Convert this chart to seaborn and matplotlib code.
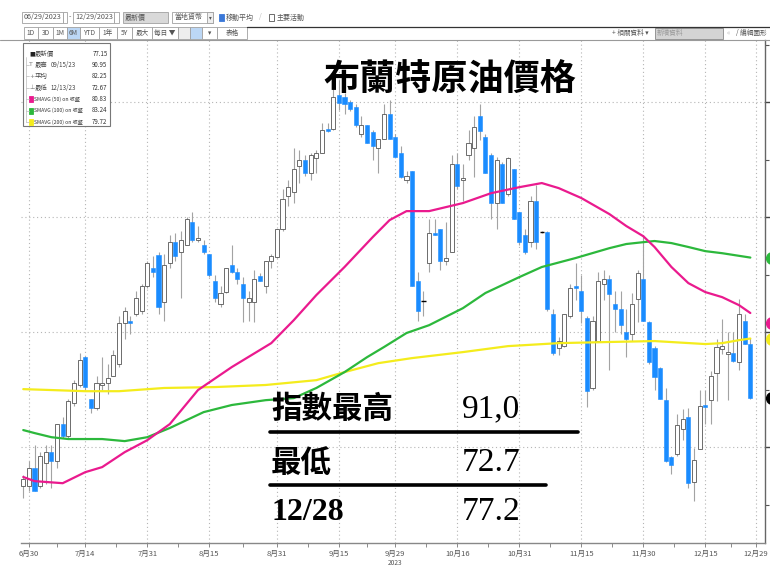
import matplotlib
matplotlib.use('Agg')
import matplotlib.pyplot as plt
import matplotlib.patches as mpatches
from matplotlib.lines import Line2D
import numpy as np
import pandas as pd
import seaborn as sns

# Brent daily candles 6/29/2023 - 12/28/2023
opens = [
    73.3, 73.3, 74.1, 73.3, 74.3, 74.8, 74.4, 76.0, 75.5, 76.9,
    77.7, 78.9, 77.1, 76.7, 77.7, 77.8, 78.1, 78.6, 80.4, 80.5,
    80.8, 80.9, 82.0, 82.8, 83.35, 81.3, 83.0, 83.9, 83.5, 83.8,
    84.8, 84.0, 83.8, 83.4, 82.2, 81.2, 81.75, 82.9, 82.6, 82.1,
    81.3, 81.3, 82.45, 82.0, 83.1, 83.25, 84.5, 85.9, 86.1, 87.2,
    87.5, 86.9, 87.55, 87.8, 88.85, 88.85, 90.3, 90.2, 90.0, 89.8,
    88.6, 89.0, 88.7, 88.0, 88.4, 89.5, 88.5, 87.8, 86.6, 87.0,
    82.2, 81.35, 83.0, 84.3, 84.5, 83.1, 83.5, 87.3, 86.6, 87.7,
    88.0, 89.4, 88.5, 87.7, 85.6, 87.3, 86.0, 87.1, 85.2, 84.2,
    83.9, 85.7, 84.35, 84.35, 80.8, 79.3, 79.4, 80.7, 82.0, 81.8,
    80.6, 77.55, 79.6, 82.1, 82.3, 81.2, 81.0, 80.0, 79.9, 81.45,
    82.3, 80.45, 79.3, 78.45, 77.05, 74.55, 74.7, 75.8, 76.3, 73.5,
    74.9, 76.85, 77.05, 78.2, 79.25, 79.05, 79.1, 78.7, 80.5, 79.5,
]
highs = [
    73.8, 74.4, 75.1, 74.8, 75.1, 75.1, 76.0, 76.3, 77.1, 77.9,
    79.1, 78.95, 77.1, 78.1, 78.9, 78.6, 79.2, 80.7, 81.1, 80.7,
    81.8, 82.1, 83.1, 83.3, 83.5, 83.4, 84.2, 84.3, 84.4, 85.0,
    85.2, 84.6, 84.0, 83.4, 82.5, 82.0, 82.8, 83.8, 82.8, 82.4,
    81.8, 82.7, 82.55, 83.1, 83.4, 84.5, 86.2, 86.6, 88.0, 87.9,
    87.7, 87.8, 87.9, 89.1, 89.1, 90.7, 90.95, 90.4, 90.1, 89.9,
    89.4, 89.0, 88.8, 88.4, 89.9, 90.1, 88.6, 88.1, 87.0, 87.0,
    82.6, 81.8, 84.9, 84.9, 84.5, 84.8, 87.7, 87.8, 87.3, 88.8,
    89.4, 89.9, 88.6, 87.8, 87.6, 87.4, 87.6, 87.1, 85.2, 84.5,
    85.9, 86.4, 84.4, 84.4, 81.0, 79.8, 80.8, 82.1, 83.0, 82.5,
    80.7, 80.7, 82.6, 82.7, 82.5, 81.8, 81.8, 81.0, 81.7, 82.7,
    84.2, 80.5, 79.4, 78.5, 77.55, 74.6, 76.45, 76.65, 76.7, 74.95,
    77.5, 77.5, 78.3, 79.7, 80.55, 80.0, 80.0, 81.45, 80.8, 79.75,
]
lows = [
    72.8, 73.1, 73.1, 73.2, 73.4, 73.2, 74.1, 75.4, 75.4, 76.8,
    77.6, 77.5, 76.5, 76.6, 77.5, 77.3, 78.1, 78.5, 79.7, 79.9,
    80.7, 80.8, 81.9, 82.4, 80.8, 80.5, 82.8, 83.1, 81.5, 83.8,
    83.9, 83.9, 83.4, 82.4, 81.3, 81.1, 81.7, 82.55, 82.1, 80.45,
    80.5, 80.45, 82.2, 81.7, 82.8, 83.2, 84.4, 85.5, 85.6, 86.5,
    86.8, 86.6, 86.9, 87.8, 88.7, 88.8, 89.65, 89.5, 89.6, 88.9,
    88.5, 88.2, 87.5, 86.9, 88.4, 88.4, 87.6, 86.7, 86.5, 82.0,
    80.5, 80.7, 82.6, 84.2, 82.7, 82.9, 83.5, 86.2, 85.7, 87.5,
    86.75, 88.35, 86.9, 84.9, 84.5, 85.6, 85.9, 84.9, 83.8, 83.4,
    83.7, 83.6, 84.3, 80.9, 79.0, 79.0, 79.35, 80.6, 81.4, 80.4,
    76.75, 77.5, 79.6, 81.4, 78.35, 80.0, 79.9, 78.9, 79.6, 80.45,
    80.5, 78.6, 77.5, 77.1, 74.35, 73.85, 74.6, 75.3, 73.2, 72.67,
    74.9, 76.0, 76.0, 77.0, 79.05, 77.05, 78.7, 78.35, 79.5, 77.1,
]
closes = [
    73.6, 74.1, 73.1, 74.6, 74.8, 74.4, 76.0, 75.5, 77.0, 77.8,
    78.8, 77.6, 76.7, 77.8, 77.8, 78.0, 79.0, 80.4, 80.9, 80.4,
    81.5, 82.0, 83.0, 82.6, 81.1, 82.9, 83.9, 83.3, 84.0, 84.9,
    84.0, 84.1, 83.5, 82.5, 81.5, 81.7, 82.8, 82.6, 82.3, 81.5,
    81.5, 82.3, 82.2, 83.1, 83.3, 84.5, 85.8, 86.3, 87.1, 87.5,
    86.9, 87.7, 87.8, 88.8, 88.75, 90.2, 89.95, 89.9, 89.7, 89.0,
    89.0, 88.2, 88.1, 88.4, 89.5, 88.4, 87.6, 86.75, 86.8, 82.0,
    80.9, 81.35, 84.3, 84.2, 83.1, 83.2, 87.3, 86.35, 86.7, 88.2,
    88.9, 88.75, 86.9, 85.6, 87.5, 85.6, 87.55, 84.9, 83.9, 83.5,
    85.7, 83.9, 84.35, 81.0, 79.1, 79.6, 80.8, 81.9, 81.9, 80.9,
    77.45, 80.5, 82.2, 82.3, 81.65, 81.0, 80.3, 79.7, 81.2, 82.55,
    80.5, 78.7, 78.05, 77.1, 74.4, 74.2, 75.95, 76.2, 73.45, 74.45,
    76.8, 76.75, 78.1, 79.35, 79.4, 79.15, 78.75, 80.8, 79.5, 77.15,
]

# moving averages, sampled along the line (trading-day number, value)
sma50_day = [0, 2, 7, 11, 14, 18, 22, 26, 31, 37, 44, 48, 52, 57, 62, 65, 68, 72,
             78, 83, 88, 92, 95, 99, 104, 107, 110, 112, 115, 118, 121, 124, 127, 129]
sma50 = [73.70, 73.52, 73.43, 73.91, 74.13, 74.78, 75.30, 76.00, 77.48, 78.48, 79.52,
         80.52, 81.61, 82.83, 84.13, 84.87, 85.26, 85.26, 85.61, 86.04, 86.30, 86.48,
         86.26, 85.83, 85.13, 84.61, 84.17, 83.70, 82.83, 82.13, 81.74, 81.52, 81.17, 80.83]
sma100_day = [0, 2, 5, 8, 14, 18, 22, 26, 32, 37, 43, 48, 52, 57, 61, 64, 68, 72,
              78, 82, 88, 92, 98, 104, 107, 110, 112, 115, 118, 121, 124, 129]
sma100 = [75.74, 75.61, 75.43, 75.35, 75.35, 75.26, 75.43, 75.83, 76.52, 76.83, 77.04,
          77.13, 77.57, 78.26, 78.91, 79.35, 79.96, 80.30, 81.04, 81.70, 82.39, 82.83,
          83.22, 83.65, 83.83, 83.91, 83.96, 83.87, 83.70, 83.52, 83.43, 83.24]
sma200_day = [0, 5, 11, 17, 25, 34, 43, 52, 57, 63, 69, 78, 86, 95, 104, 112, 121, 124, 127, 129]
sma200 = [77.52, 77.48, 77.43, 77.43, 77.57, 77.61, 77.70, 77.91, 78.26, 78.65, 78.87,
          79.13, 79.39, 79.52, 79.57, 79.61, 79.48, 79.52, 79.65, 79.72]

tick_dates = ['2023-06-30', '2023-07-14', '2023-07-31', '2023-08-15', '2023-08-31',
              '2023-09-15', '2023-09-29', '2023-10-16', '2023-10-31', '2023-11-15',
              '2023-11-30', '2023-12-15', '2023-12-29']
price_grid = [75, 80, 85, 90]
price_minor = [72.5, 77.5, 82.5, 87.5, 92.5]

legend_rows = [('最新價', '', '77.15'), ('最高', '09/15/23', '90.95'),
               ('平均', '', '82.25'), ('最低', '12/13/23', '72.67'),
               ('SMAVG (50) on 收盤', '', '80.83'), ('SMAVG (100) on 收盤', '', '83.24'),
               ('SMAVG (200) on 收盤', '', '79.72')]

C_UP_EDGE = '#555555'
C_DOWN = '#1a8cff'
C_WICK = '#a3a3a3'
C50, C100, C200 = '#ea1a8e', '#2cb83c', '#f4ec1c'

sns.set_theme(style='white')
CJK = ['Noto Sans CJK TC', 'DejaVu Sans']
plt.rcParams['font.family'] = CJK
plt.rcParams['axes.grid'] = False

W, H = 770, 585
fig = plt.figure(figsize=(W / 100, H / 100), dpi=100)
ax = fig.add_axes([21 / W, 1 - 543 / H, (765 - 21) / W, (543 - 40) / H])

# trading calendar (ICE closed on Christmas day)
cal = [d for d in pd.bdate_range('2023-06-29', '2023-12-29') if d != pd.Timestamp('2023-12-25')]
pos = {d: i for i, d in enumerate(cal)}
tpos = [pos[pd.Timestamp(d)] for d in tick_dates]
tlab = [f'{pd.Timestamp(d).month}月{pd.Timestamp(d).day}' for d in tick_dates]
mids = [(a + b) / 2 for a, b in zip(tpos[:-1], tpos[1:])]

# dotted grid, only at the labelled dates and the 5-dollar levels
for t in tpos:
    ax.axvline(t, ls=(0, (1, 2.5)), color='#b5b5b5', lw=0.8, zorder=1)
for p in price_grid:
    ax.axhline(p, ls=(0, (1, 2.5)), color='#b5b5b5', lw=0.8, zorder=1)

o, h, l, c = (np.array(v) for v in (opens, highs, lows, closes))
x = np.arange(len(c))
doji = np.abs(c - o) < 0.02
up = (c > o) & ~doji
dn = (c < o) & ~doji

ax.vlines(x, l, h, color=C_WICK, lw=0.8, zorder=2)
ax.bar(x[up], (c - o)[up], bottom=o[up], width=0.72, color='white',
       edgecolor=C_UP_EDGE, linewidth=0.6, zorder=3)
ax.bar(x[dn], (o - c)[dn], bottom=c[dn], width=0.72, color=C_DOWN,
       edgecolor=C_DOWN, linewidth=0.4, zorder=3)
ax.hlines(c[doji], x[doji] - 0.4, x[doji] + 0.4, color='black', lw=1.0, zorder=3)

sns.lineplot(x=sma200_day, y=sma200, color=C200, lw=1.6, ax=ax, zorder=4)
sns.lineplot(x=sma100_day, y=sma100, color=C100, lw=1.6, ax=ax, zorder=4)
sns.lineplot(x=sma50_day, y=sma50, color=C50, lw=1.6, ax=ax, zorder=4)

ax.set_xlim(-0.4, 131.6)
ax.set_ylim(70.83, 92.70)
ax.set_xlabel('')
ax.set_ylabel('')

ax.set_xticks(tpos)
ax.set_xticklabels(tlab, fontsize=5.5, color='#555555')
ax.set_yticks(price_grid)
ax.minorticks_off()
ax.tick_params(axis='x', bottom=True, direction='out', length=3,
               width=0.6, color='#777777', pad=2)
ax.tick_params(axis='y', left=False, right=True, labelleft=False,
               labelright=False, direction='out', length=3.5, width=1.0, color='#444444')
ax.grid(False)
# small in-between tick marks drawn as markers (no grid lines behind them)
ax.plot(mids, [0] * len(mids), transform=ax.get_xaxis_transform(), ls='none',
        marker=3, ms=3, mew=0.6, color='#777777', clip_on=False)
ax.plot([1] * len(price_minor), price_minor, transform=ax.get_yaxis_transform(), ls='none',
        marker=1, ms=3, mew=0.8, color='#555555', clip_on=False)
for s in ('left', 'top'):
    ax.spines[s].set_visible(False)
ax.spines['bottom'].set_color('#888888')
ax.spines['bottom'].set_linewidth(1.0)
ax.spines['right'].set_color('#666666')
ax.spines['right'].set_linewidth(1.0)


def fx(px):
    return px / W


def fy(py):
    return 1 - py / H


def pbox(x0, y0, x1, y1, fc='white', ec='#a0a0a0', lw=0.6):
    fig.patches.append(mpatches.Rectangle((fx(x0), fy(y1)), (x1 - x0) / W, (y1 - y0) / H,
                                          transform=fig.transFigure, fc=fc, ec=ec, lw=lw))


def ptext(px, py, s, size=5, color='#555555', ha='left', **kw):
    fig.text(fx(px), fy(py), s, fontsize=size, color=color, ha=ha, va='center', **kw)


def pline(x0, x1, y0, y1, color='#999999', lw=0.8):
    fig.add_artist(Line2D([fx(x0), fx(x1)], [fy(y0), fy(y1)], color=color, lw=lw))


# toolbar, first row
pbox(22, 12, 63, 23); ptext(24, 17.5, '06/29/2023', 5.2)
pbox(63, 12, 67, 23)
ptext(68.5, 17.5, '-')
pbox(73, 12, 114, 23); ptext(75, 17.5, '12/29/2023', 5.2)
pbox(114, 12, 119, 23)
pbox(123, 12, 168, 23, fc='#d9d9d9'); ptext(125, 17.5, '最新價')
pbox(172, 12, 213, 23); ptext(174, 17.5, '當地貨幣')
pbox(207, 12, 213, 23, fc='#eeeeee'); ptext(210, 17.5, '▾', 4, ha='center')
pbox(219, 14, 224, 21, fc='#3a78d8', ec='#3a78d8'); ptext(226, 17.5, '移動平均')
ptext(259, 17.5, '/', color='#bbbbbb')
pbox(269, 14, 274, 21, ec='#555555'); ptext(277, 17.5, '主要活動')

# toolbar, second row
buttons = [('1D', 24, 38), ('3D', 38, 53), ('1M', 53, 67), ('6M', 67, 80),
           ('YTD', 80, 99), ('1年', 99, 117), ('5Y', 117, 132), ('最大', 132, 152),
           ('每日 ▼', 152, 178), ('', 178, 190), ('', 190, 202), ('▾', 202, 217),
           ('表格', 217, 247)]
for lab, a, b in buttons:
    fc = '#bcd7f5' if lab == '6M' or a == 190 else ('#eeeeee' if a == 178 else 'white')
    pbox(a, 27, b, 39, fc=fc)
    ptext((a + b) / 2, 33, lab, 4.8, ha='center')
pline(247, 770, 26.5, 26.5, color='#333333', lw=0.9)
pline(0, 770, 39.5, 39.5, color='#9a9a9a', lw=0.8)
ptext(612, 33, '+ 相關資料 ▾', 4.8)
pbox(655, 28, 723, 38.5, fc='#d4d4d4', ec='#888888'); ptext(657, 33, '新增資料', 4.8, color='#999999')
ptext(727, 33, '«', 5, color='#bbbbbb')
ptext(736, 33, '/ 編輯圖形', 4.8)

# legend panel
pbox(23, 43, 110, 126, ec='#777777', lw=0.8)
pline(26, 26, 57, 122, color='#bbbbbb', lw=0.5)
marks = ['■', 'T', '+', '⊥']
swatch = [None, None, None, None, C50, C100, C200]
for k, (name, day, val) in enumerate(legend_rows):
    yy = 53.5 + k * 11.4
    if k > 0:
        pline(26, 28.5, yy, yy, color='#bbbbbb', lw=0.5)
    if swatch[k] is not None:
        pbox(29, yy - 3, 33, yy + 3, fc=swatch[k], ec=swatch[k])
        ptext(34.5, yy, name, 3.7, color='#333333')
    else:
        ptext(29, yy, marks[k], 4.4, color='#222222' if k == 0 else '#777777',
              family='DejaVu Sans')
        ptext(35, yy, name, 4.6, color='#444444')
        if day:
            ptext(51, yy, day, 4.4, color='#444444')
    ptext(107.5, yy, val, 4.4, color='#333333', ha='right')

# right-edge value flags (cut by the canvas edge, as in the screenshot)
for yy, col in [(258, C100), (322.5, C50), (338.5, C200), (397.5, 'black')]:
    fig.add_artist(Line2D([fx(771.5)], [fy(yy)], marker='o', ms=8.5, color=col, mec=col))

ptext(395, 563, '2023', 4.8, ha='center')

# title and overlay notes
fig.text(fx(450), fy(80), '布蘭特原油價格', fontsize=26, fontweight='bold',
         ha='center', va='center', color='black')
ptext(271, 409, '指數最高', 22, color='black', fontweight='bold')
ptext(462, 409, '91,0', 24, color='black', family='Liberation Serif')
pline(270, 578, 431.5, 431.5, color='black', lw=2.6)
ptext(271, 463, '最低', 22, color='black', fontweight='bold')
ptext(462, 463, '72.7', 24, color='black', family='Liberation Serif')
pline(270, 546, 484.5, 484.5, color='black', lw=2.6)
ptext(271, 512, '12/28', 23, color='black', fontweight='bold', family='Liberation Serif')
ptext(462, 512, '77.2', 24, color='black', family='Liberation Serif')

fig.savefig('out.png', dpi=100)
